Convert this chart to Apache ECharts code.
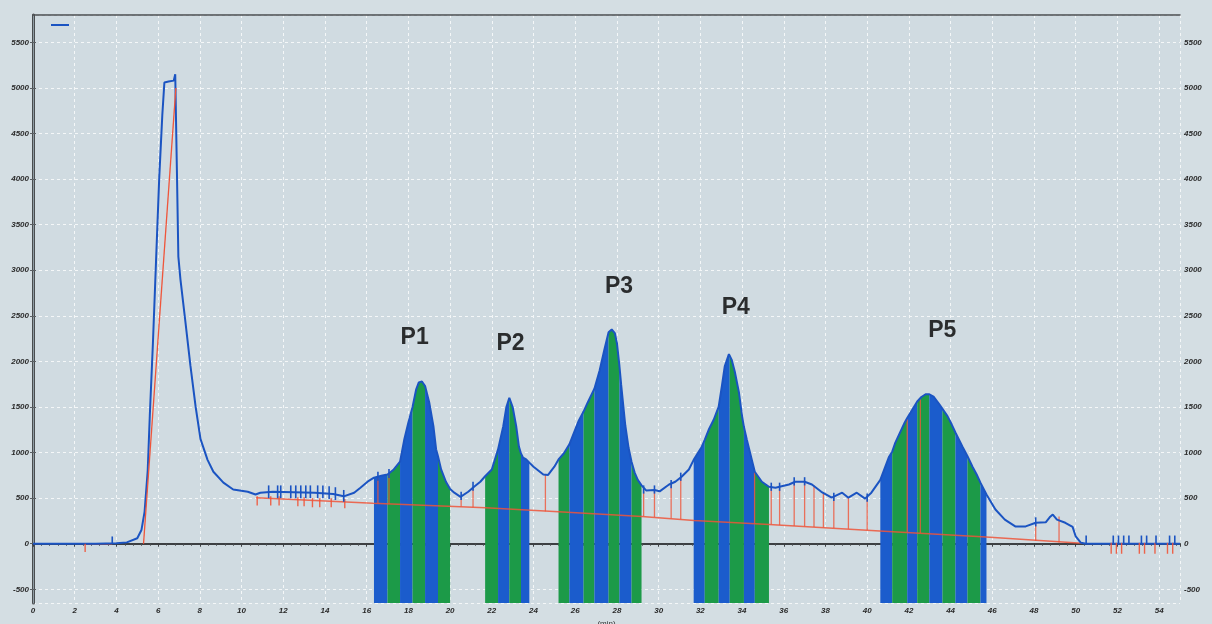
<!DOCTYPE html>
<html>
<head>
<meta charset="utf-8">
<script src="https://cdn.jsdelivr.net/npm/echarts@6/dist/echarts.min.js"></script>
<style>
  html, body { margin: 0; padding: 0; background: #d4dee3; }
  #chart { width: 1212px; height: 624px; }
</style>
</head>
<body>
<div id="chart"></div>
<script>
// Retention time (min) and detector response of the chromatogram
const time = [
  0, 1, 2, 3, 4, 4.5, 5.0, 5.2, 5.35, 5.5, 5.6, 5.75, 5.9, 6.05, 6.2, 6.3, 6.5, 6.75, 6.82, 6.88,
  6.9, 6.97, 7.07, 7.3, 7.55, 7.8, 8.03, 8.37, 8.65, 9.13, 9.6, 10.3, 10.67, 10.9, 11.5, 12.5,
  13.5, 14.4, 14.9, 15.4, 15.7, 16.1,
  16.35, 16.7, 17.0, 17.3, 17.6, 17.8, 18.0, 18.2, 18.37, 18.5, 18.65, 18.8, 19.0, 19.2, 19.33,
  19.42, 19.57, 19.8, 20.0, 20.2, 20.5, 20.87, 21.15, 21.45,
  21.68, 22.0, 22.3, 22.55, 22.7, 22.84, 23.0, 23.17, 23.3, 23.4, 23.5, 23.65, 23.8, 24.0, 24.47,
  24.7, 25.0,
  25.2, 25.45, 25.72, 26.15, 26.4, 26.6, 26.92, 27.17, 27.4, 27.6, 27.75, 27.9, 28.0, 28.12, 28.2,
  28.4, 28.56, 28.7, 28.85, 29.0, 29.18, 29.4, 29.8, 30.05, 30.5, 30.8, 31.1, 31.45,
  31.68, 32.07, 32.21, 32.4, 32.64, 32.88, 33.03, 33.17, 33.37, 33.41, 33.5, 33.65, 33.85, 34.0,
  34.09, 34.23, 34.47, 34.61, 34.95, 35.29, 35.6, 36.25, 36.55, 37.0, 37.35, 37.8, 38.3, 38.8,
  39.1, 39.5, 39.9, 40.2,
  40.63, 41.05, 41.2, 41.35, 41.8, 41.92, 42.16, 42.4, 42.6, 42.8, 42.98, 43.2, 43.46, 43.61,
  43.85, 44.05, 44.23, 44.57, 44.81, 45.05, 45.25, 45.43, 45.72, 46.15, 46.6, 47.1, 47.6, 48.08,
  48.56, 48.75, 48.9, 49.1, 49.5, 49.85, 50.0, 50.25, 50.5, 55
];
const signal = [
  0, 0, 0, 0, 5, 15, 60, 150, 350, 800, 1400, 2200, 3100, 4000, 4700, 5060, 5070, 5080, 5150, 5150,
  4100, 3150, 2900, 2450, 1950, 1500, 1150, 920, 790, 670, 595, 570, 540, 560, 570, 565,
  560, 545, 520, 560, 615, 690,
  725, 745, 760, 815, 900, 1140, 1330, 1500, 1690, 1770, 1780, 1730, 1550, 1290, 1035,
  960, 815, 680, 600, 560, 515, 570, 625, 680,
  740, 815, 1035, 1290, 1500, 1600, 1500, 1290, 1065, 990, 945, 925, 890, 845, 760,
  755, 845,
  925, 990, 1090, 1340, 1450, 1550, 1700, 1900, 2130, 2320, 2350, 2310, 2200, 1950, 1750,
  1300, 1050, 900, 780, 700, 640, 585, 590, 575, 650, 680, 735, 815,
  920, 1065, 1140, 1250, 1360, 1505, 1725, 1945, 2080, 2075, 2020, 1890, 1660, 1400,
  1280, 1140, 920, 790, 680, 625, 615, 650, 680, 680, 650, 570, 505, 560,
  505, 560, 495, 560,
  700, 955, 1010, 1110, 1330, 1380, 1470, 1560, 1610, 1640, 1640, 1610, 1530, 1480,
  1400, 1310, 1220, 1065, 960, 845, 760, 670, 540, 375, 265, 190, 190, 230,
  235, 290, 320, 265, 230, 185, 80, 10, 0, 0
];

// Integration slices of each peak (boundary times, min)
const p1Slices = [16.35, 17.0, 17.6, 18.2, 18.8, 19.42, 20.0];
const p2Slices = [21.68, 22.3, 22.84, 23.4, 23.8];
const p3Slices = [25.2, 25.72, 26.4, 26.92, 27.6, 28.12, 28.7, 29.18];
const p4Slices = [31.68, 32.21, 32.88, 33.41, 34.09, 34.61, 35.29];
const p5Slices = [40.63, 41.2, 41.92, 42.4, 42.98, 43.61, 44.23, 44.81, 45.43, 45.72];

// Peak names and where they are written
const peakNames = ['P1', 'P2', 'P3', 'P4', 'P5'];
const peakNameTime = [18.3, 22.9, 28.1, 33.7, 43.6];
const peakNameValue = [2260, 2200, 2820, 2590, 2340];

// Integration baseline
const baselineTime = [10.7, 16.3, 21.7, 25.2, 29.2, 31.7, 35.3, 40.6, 45.7, 50.3];
const baselineValue = [505, 445, 395, 350, 300, 255, 210, 140, 75, 5];
const injectTime = [2.5, 3.8];
const injectValue = [0, 0];
const frontTime = [5.3, 6.85];
const frontValue = [0, 5000];

// Drop lines: [time, signal top, baseline bottom]
const dropLines = [
  [16.54, 725, 443], [17.07, 765, 438], [20.53, 515, 408], [21.1, 620, 400], [24.57, 760, 355],
  [29.28, 590, 300], [29.8, 590, 293], [30.6, 650, 280], [31.06, 735, 270], [34.6, 790, 225],
  [35.4, 620, 210], [35.8, 620, 205], [36.5, 680, 195], [37.0, 680, 190], [37.45, 640, 185],
  [37.9, 560, 180], [38.4, 510, 172], [39.1, 505, 163], [40.0, 495, 150], [41.92, 1380, 125],
  [42.55, 1590, 117], [48.08, 230, 30], [49.2, 300, 15]
];

// Event marks: [time, low, high]
const blueMarks = [
  [3.8, 0, 80],
  [11.3, 500, 640], [11.73, 500, 640], [11.88, 500, 640], [12.36, 500, 640], [12.6, 500, 640],
  [12.84, 500, 640], [13.08, 500, 640], [13.3, 500, 640], [13.65, 500, 640], [13.9, 500, 640],
  [14.2, 490, 630], [14.5, 480, 620], [14.9, 460, 590],
  [16.54, 690, 790], [17.07, 720, 820], [20.53, 480, 570], [21.1, 580, 680], [29.28, 550, 640],
  [29.8, 550, 640], [30.6, 610, 700], [31.06, 690, 780], [35.4, 580, 670], [35.8, 580, 670],
  [36.5, 640, 730], [37.0, 640, 730], [38.4, 470, 560], [40.0, 460, 550], [48.08, 190, 290],
  [50.5, 0, 90], [51.8, 0, 90], [52.05, 0, 90], [52.3, 0, 90], [52.55, 0, 90], [53.15, 0, 90],
  [53.4, 0, 90], [53.85, 0, 90], [54.5, 0, 90], [54.75, 0, 90]
];
const redMarks = [
  [2.5, -90, 0],
  [10.75, 420, 520], [11.4, 420, 520], [11.8, 420, 520], [12.7, 410, 510], [13.0, 410, 510],
  [13.4, 400, 500], [13.75, 400, 500], [14.3, 400, 500], [14.95, 390, 490],
  [51.7, -110, 10], [51.95, -110, 10], [52.2, -110, 10], [53.05, -110, 10], [53.3, -110, 10],
  [53.8, -110, 10], [54.4, -110, 10], [54.65, -110, 10]
];

// ---- styling ----
const Y_MIN = -650, Y_MAX = 5800;
const BLUE = '#1b5ccc', GREEN = '#1c9a48', LINE = '#1b54c2', RED = '#ef553a';
const sliceGroups = [p1Slices, p2Slices, p3Slices, p4Slices, p5Slices];
const startsGreen = [false, true, true, false, false];

const sliceData = [];
sliceGroups.forEach((edges, g) => {
  for (let i = 0; i < edges.length - 1; i++) {
    const green = (i % 2 === 0) === startsGreen[g];
    sliceData.push([edges[i], edges[i + 1], green ? 1 : 0]);
  }
});

const pairs = (xs, ys) => xs.map((x, i) => [x, ys[i]]);

function segment(color, width, opacity) {
  return function (params, api) {
    const a = api.coord([api.value(0), api.value(1)]);
    const b = api.coord([api.value(0), api.value(2)]);
    return {
      type: 'line',
      shape: { x1: a[0], y1: a[1], x2: b[0], y2: b[1] },
      style: { stroke: color, lineWidth: width, opacity: opacity }
    };
  };
}

const axisFont = { fontSize: 8, fontStyle: 'italic', fontWeight: 'bold', color: '#2a2a2a', fontFamily: 'Liberation Sans' };
const gridLine = { color: '#f4f7f8', type: [3, 3], width: 1 };

function yAxis(pos) {
  const left = pos === 'left';
  return {
    type: 'value', position: pos, min: Y_MIN, max: Y_MAX,
    minInterval: 500, maxInterval: 500, splitNumber: 13,
    axisLine: { show: true, lineStyle: { color: left ? '#4a4d50' : '#8e9ca3', width: left ? 3 : 1 } },
    axisTick: { show: true, length: 3, lineStyle: { color: '#5a5f63' } },
    axisLabel: Object.assign({
      margin: 4, showMinLabel: false, showMaxLabel: false, formatter: v => String(v)
    }, axisFont),
    splitLine: { show: left, lineStyle: gridLine }
  };
}

const chart = echarts.init(document.getElementById('chart'), null, { renderer: 'canvas' });
chart.setOption({
  backgroundColor: '#d4dee3',
  animation: false,
  grid: {
    left: 33, right: 32, top: 15, bottom: 21, outerBoundsMode: 'none', containLabel: false,
    show: true, backgroundColor: '#d0dbe1', borderWidth: 0
  },
  legend: {
    data: ['signal'], left: 46, top: 19, icon: 'rect', itemWidth: 18, itemHeight: 2,
    formatter: () => '', itemGap: 0
  },
  xAxis: [{
    type: 'value', min: 0, max: 55, interval: 2, position: 'bottom',
    name: '(min)', nameLocation: 'middle', nameGap: 14,
    nameTextStyle: { fontSize: 8, color: '#333', fontFamily: 'Liberation Sans' },
    axisLine: { show: true, lineStyle: { color: '#3c3f42', width: 2 } },
    axisTick: { show: true, length: 3, lineStyle: { color: '#3c3f42' } },
    minorTick: { show: true, splitNumber: 5, length: 2, lineStyle: { color: '#4a4d50' } },
    axisLabel: Object.assign({ margin: 4, showMaxLabel: false }, axisFont),
    splitLine: { show: true, lineStyle: gridLine }
  }, {
    type: 'value', min: 0, max: 55, position: 'top',
    axisLine: { show: true, onZero: false, lineStyle: { color: '#4a4d50', width: 1.5 } },
    axisTick: { show: false }, axisLabel: { show: false }, splitLine: { show: false }
  }],
  yAxis: [yAxis('left'), yAxis('right')],
  series: [
    {
      type: 'custom', name: 'slices', z: 1, silent: true,
      data: sliceData,
      renderItem(params, api) {
        const a = api.value(0), b = api.value(1);
        const pts = [api.coord([a, Y_MIN])];
        for (let i = 0; i < time.length; i++) {
          if (time[i] >= a - 1e-9 && time[i] <= b + 1e-9) pts.push(api.coord([time[i], signal[i]]));
        }
        pts.push(api.coord([b, Y_MIN]));
        return { type: 'polygon', shape: { points: pts }, style: { fill: api.value(2) ? GREEN : BLUE } };
      }
    },
    {
      type: 'line', name: 'baseline', z: 3, symbol: 'none', silent: true,
      data: pairs(baselineTime, baselineValue),
      lineStyle: { color: RED, width: 1.5, opacity: 0.85 }
    },
    {
      type: 'line', name: 'inject', z: 3, symbol: 'none', silent: true,
      data: pairs(injectTime, injectValue),
      lineStyle: { color: RED, width: 1.5 }
    },
    {
      type: 'line', name: 'front', z: 5, symbol: 'none', silent: true,
      data: pairs(frontTime, frontValue),
      lineStyle: { color: RED, width: 1.3 }
    },
    {
      type: 'custom', name: 'drops', z: 3, silent: true,
      data: dropLines, renderItem: segment(RED, 1.3, 0.8)
    },
    {
      type: 'line', name: 'signal', z: 4, symbol: 'none', silent: true,
      data: pairs(time, signal),
      itemStyle: { color: LINE },
      lineStyle: { color: LINE, width: 2 }
    },
    {
      type: 'custom', name: 'blueMarks', z: 6, silent: true,
      data: blueMarks, renderItem: segment(LINE, 1.6, 1)
    },
    {
      type: 'custom', name: 'redMarks', z: 5, silent: true,
      data: redMarks, renderItem: segment(RED, 1.4, 0.9)
    },
    {
      type: 'scatter', name: 'peaks', z: 7, silent: true, symbolSize: 0,
      data: peakNames.map((n, i) => ({ name: n, value: [peakNameTime[i], peakNameValue[i]] })),
      label: {
        show: true, position: 'inside', formatter: p => p.name,
        fontSize: 23, fontWeight: 'bold', color: '#000000', fontFamily: 'Liberation Sans'
      }
    }
  ]
});
</script>
</body>
</html>
